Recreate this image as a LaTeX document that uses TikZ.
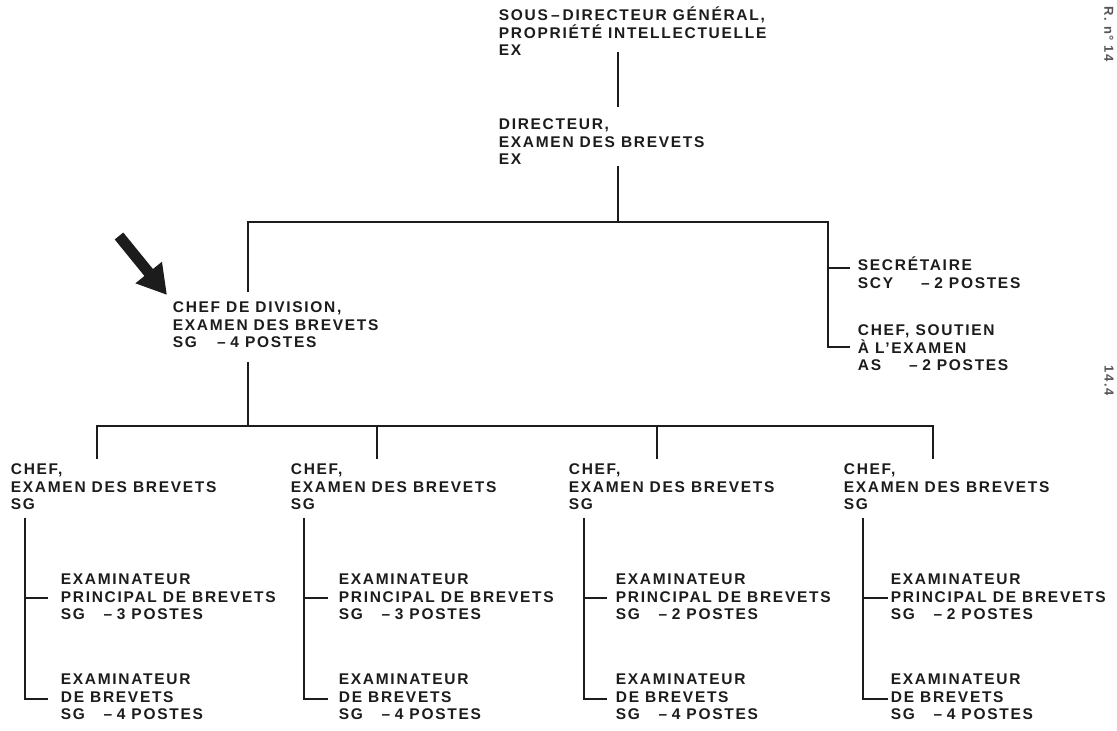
\documentclass[tikz,border=0pt]{standalone}
\usepackage{fontspec}
\newfontfamily\orgfont[LetterSpace=11]{Liberation Sans}
\usetikzlibrary{calc,arrows.meta}
\definecolor{ink}{HTML}{1C1C1C}
\newcommand{\postes}[3][1.2em]{#2\hspace{#1}–\hspace{0.3em}#3 POSTES}

\begin{document}
\begin{tikzpicture}[x=1pt,y=1pt,line width=1.8pt,color=ink,
  unit/.style={anchor=north west,inner sep=0pt,align=left,
    font=\orgfont\bfseries\fontsize{15.5}{17.5}\selectfont,
    execute at begin node=\rule{0pt}{14.5pt}},
  edgemark/.style={rotate=-90,anchor=west,inner sep=0pt,text=ink!75,
    font=\orgfont\bfseries\fontsize{13}{14}\selectfont}]
\path[fill=white,use as bounding box] (0,0) rectangle (1117,-731);

\node[unit] (sdg) at (498,-6) {SOUS\hspace{0.2em}–\hspace{0.2em}DIRECTEUR GÉNÉRAL,\\PROPRIÉTÉ INTELLECTUELLE\\EX};
\node[unit] (dir) at (498,-118) {DIRECTEUR,\\EXAMEN DES BREVETS\\EX};
\node[unit] (div) at (172,-301) {CHEF DE DIVISION,\\EXAMEN DES BREVETS\\\postes[1.3em]{SG}{4}};
\node[unit] (sec) at (857,-256) {SECRÉTAIRE\\\postes[1.8em]{SCY}{2}};
\node[unit] (aid) at (857,-324) {CHEF, SOUTIEN\\À L’EXAMEN\\\postes[1.8em]{AS}{2}};

\coordinate (jdir) at (618,-222);
\coordinate (jbus) at (248,-426);
\draw ($(sdg.south -| jdir)+(0,5)$) -- ($(dir.north -| jdir)+(0,11)$);
\draw (dir.south -| jdir) -- (jdir);
\draw ($(div.north west)+(76,9)$) |- (jdir) -| ($(aid.north west)+(-29,-23)$) -- ($(aid.north west)+(-7,-23)$);
\draw ($(sec.north west)+(-7,-12)$) -- ($(sec.north west)+(-29,-12)$);
\draw ($(div.south west)+(76,-13)$) -- (jbus);

% pointer
\coordinate (ptr) at (119,-236);
\draw[line width=11pt,-{Triangle[length=29pt,width=32pt]}] (ptr) -- ($(div.north west)+(-5,6)$);

% sections
\node[unit] (chefa) at (10,-463) {CHEF,\\EXAMEN DES BREVETS\\SG};
\node[unit] (prina) at (60,-573) {EXAMINATEUR\\PRINCIPAL DE BREVETS\\\postes{SG}{3}};
\node[unit] (exama) at (60,-673) {EXAMINATEUR\\DE BREVETS\\\postes{SG}{4}};

\node[unit] (chefb) at (290,-463) {CHEF,\\EXAMEN DES BREVETS\\SG};
\node[unit] (prinb) at (338,-573) {EXAMINATEUR\\PRINCIPAL DE BREVETS\\\postes{SG}{3}};
\node[unit] (examb) at (338,-673) {EXAMINATEUR\\DE BREVETS\\\postes{SG}{4}};

\node[unit] (chefc) at (568,-463) {CHEF,\\EXAMEN DES BREVETS\\SG};
\node[unit] (princ) at (615,-573) {EXAMINATEUR\\PRINCIPAL DE BREVETS\\\postes{SG}{2}};
\node[unit] (examc) at (615,-673) {EXAMINATEUR\\DE BREVETS\\\postes{SG}{4}};

\node[unit] (chefd) at (843,-463) {CHEF,\\EXAMEN DES BREVETS\\SG};
\node[unit] (prind) at (890,-573) {EXAMINATEUR\\PRINCIPAL DE BREVETS\\\postes{SG}{2}};
\node[unit] (examd) at (890,-673) {EXAMINATEUR\\DE BREVETS\\\postes{SG}{4}};

\draw ($(chefa.north west)+(87,4)$) |- (jbus) -| ($(chefd.north west)+(90,4)$);
\draw ($(chefb.north west)+(87,4)$) |- (jbus);
\draw ($(chefc.north west)+(89,4)$) |- (jbus);

\draw ($(chefa.south west)+(15,-7)$) |- ($(exama.north west)+(-12,-26)$);
\draw ($(prina.north west)+(-12,-25)$) -| ($(chefa.south west)+(15,-7)$);
\draw ($(chefb.south west)+(14,-7)$) |- ($(examb.north west)+(-10,-26)$);
\draw ($(prinb.north west)+(-10,-25)$) -| ($(chefb.south west)+(14,-7)$);
\draw ($(chefc.south west)+(16,-7)$) |- ($(examc.north west)+(-8,-26)$);
\draw ($(princ.north west)+(-8,-25)$) -| ($(chefc.south west)+(16,-7)$);
\draw ($(chefd.south west)+(20,-7)$) |- ($(examd.north west)+(-2,-26)$);
\draw ($(prind.north west)+(-2,-25)$) -| ($(chefd.south west)+(20,-7)$);

\node[edgemark] (folio) at (1109,-6) {R. n° 14};
\node[edgemark] (para) at (1109,-365) {14.4};
\end{tikzpicture}
\end{document}
